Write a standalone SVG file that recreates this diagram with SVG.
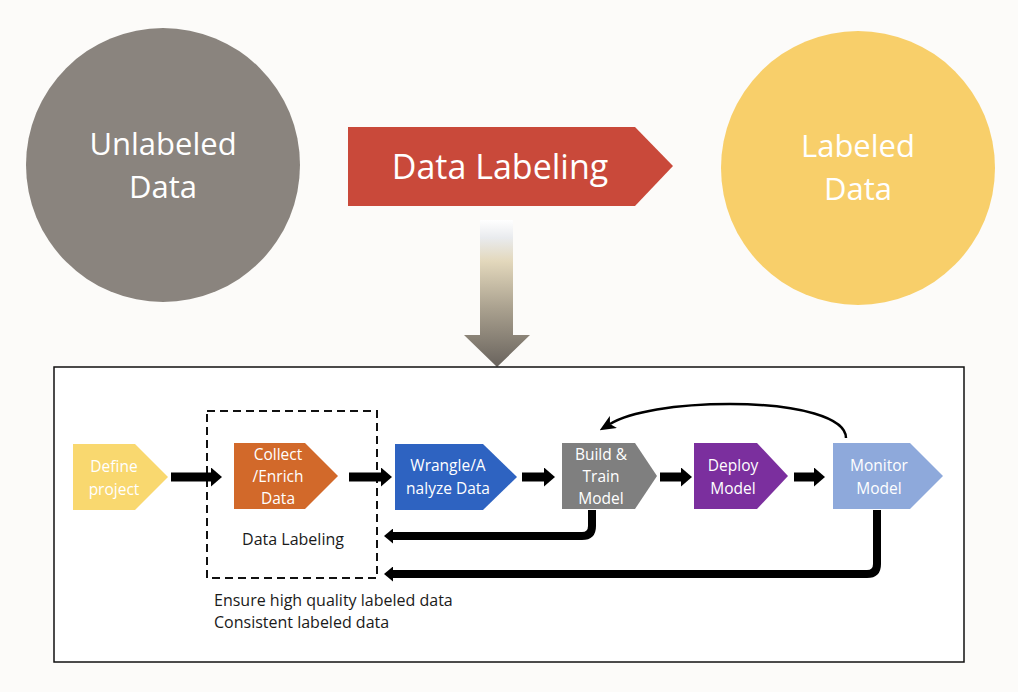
<svg xmlns="http://www.w3.org/2000/svg" width="1018" height="692" viewBox="0 0 1018 692">
<defs>
<linearGradient id="dg" x1="0" y1="0" x2="0" y2="1" gradientUnits="objectBoundingBox">
<stop offset="0" stop-color="#ffffff"/>
<stop offset="0.12" stop-color="#e9ebee"/>
<stop offset="0.28" stop-color="#e3d8bc"/>
<stop offset="0.6" stop-color="#aaa18f"/>
<stop offset="1" stop-color="#69635d"/>
</linearGradient>
<marker id="ah" markerWidth="11" markerHeight="19" refX="1" refY="9.5" orient="auto" markerUnits="userSpaceOnUse" viewBox="0 0 11 19">
<path d="M0,0 L11,9.5 L0,19 z" fill="#000"/>
</marker>
<marker id="ahs" markerWidth="9" markerHeight="15" refX="1" refY="7.5" orient="auto" markerUnits="userSpaceOnUse" viewBox="0 0 9 15">
<path d="M0,0 L9,7.5 L0,15 z" fill="#000"/>
</marker>
<marker id="ah2" markerWidth="16" markerHeight="14" refX="4" refY="7" orient="auto" markerUnits="userSpaceOnUse" viewBox="0 0 16 14">
<path d="M0,0 L16,7 L0,14 L4,7 z" fill="#000"/>
</marker>
<style>
.big{font-family:"Open Sans","Liberation Sans",sans-serif;fill:#fff;text-anchor:middle}
.nt{font-family:"Open Sans","Liberation Sans",sans-serif;fill:#fff;text-anchor:middle;font-size:15.5px}
.dk{font-family:"Open Sans","Liberation Sans",sans-serif;fill:#1a1a1a;font-size:16px}
.fa{stroke:#000;stroke-width:9;fill:none;marker-end:url(#ah)}
.ra{stroke:#000;stroke-width:8;fill:none;marker-end:url(#ahs)}
</style>
</defs>
<rect width="1018" height="692" fill="#fcfbf9"/>
<g id="unlabeled">
<circle cx="163" cy="165" r="137" fill="#8a847e"/>
<text class="big" font-size="31" x="163" y="155">Unlabeled</text>
<text class="big" font-size="31" x="163" y="198">Data</text>
</g>
<g id="labeled">
<circle cx="858" cy="168" r="137" fill="#f8cf6a"/>
<text class="big" font-size="31" x="858" y="157">Labeled</text>
<text class="big" font-size="31" x="858" y="200">Data</text>
</g>
<g id="data-labeling">
<polygon points="348,127 635,127 673,166 635,206 348,206" fill="#c9493a"/>
<text class="big" font-size="34" x="500" y="179">Data Labeling</text>
</g>
<g id="down-arrow">
<polygon points="480,220 513,220 513,335 530,335 497,367 464,335 480,335" fill="url(#dg)"/>
</g>
<g id="frame">
<rect x="54" y="367" width="910" height="295" fill="#ffffff" stroke="#111" stroke-width="1.5"/>
</g>
<g id="dashed-box">
<rect x="207" y="411" width="170" height="167" fill="none" stroke="#111" stroke-width="2" stroke-dasharray="8,5"/>
<text class="dk" x="293" y="545" text-anchor="middle">Data Labeling</text>
</g>
<g id="define">
<polygon points="73,444 135,444 168,477 135,510 73,510" fill="#f9d86f"/>
<text class="nt" x="114" y="472">Define</text>
<text class="nt" x="114" y="495">project</text>
</g>
<g id="collect">
<polygon points="234,443 305,443 338,476 305,509 234,509" fill="#d2692a"/>
<text class="nt" x="278" y="460">Collect</text>
<text class="nt" x="278" y="482">/Enrich</text>
<text class="nt" x="278" y="504">Data</text>
</g>
<g id="wrangle">
<polygon points="395,444 483,444 517,477 483,510 395,510" fill="#2e63c1"/>
<text class="nt" x="448" y="471">Wrangle/A</text>
<text class="nt" x="448" y="494">nalyze Data</text>
</g>
<g id="build">
<polygon points="562,443 635,443 657,476 635,509 562,509" fill="#7f7f7f"/>
<text class="nt" x="601" y="460">Build &amp;</text>
<text class="nt" x="601" y="482">Train</text>
<text class="nt" x="601" y="504">Model</text>
</g>
<g id="deploy">
<polygon points="694,443 757,443 788,476 757,509 694,509" fill="#7b2f9e"/>
<text class="nt" x="733" y="471">Deploy</text>
<text class="nt" x="733" y="494">Model</text>
</g>
<g id="monitor">
<polygon points="833,443 910,443 943,476 910,509 833,509" fill="#8ea9db"/>
<text class="nt" x="879" y="471">Monitor</text>
<text class="nt" x="879" y="494">Model</text>
</g>
<g id="notes">
<text class="dk" x="214" y="606">Ensure high quality labeled data</text>
<text class="dk" x="214" y="628">Consistent labeled data</text>
</g>
<g id="connectors">
<path class="fa" d="M171,477 L212,477"/>
<path class="fa" d="M349,477 L382,477"/>
<path class="fa" d="M522,477 L545,477"/>
<path class="fa" d="M660,477 L682,477"/>
<path class="fa" d="M794,477 L815,477"/>
<path class="ra" d="M592,510 L592,526 Q592,536 582,536 L392,536"/>
<path class="ra" d="M877,510 L877,564 Q877,574 867,574 L392,574"/>
<path d="M846,438 C846,418 800,404 730,404 C675,404 630,412 610,424" fill="none" stroke="#000" stroke-width="2.5" marker-end="url(#ah2)"/>
</g>
</svg>
